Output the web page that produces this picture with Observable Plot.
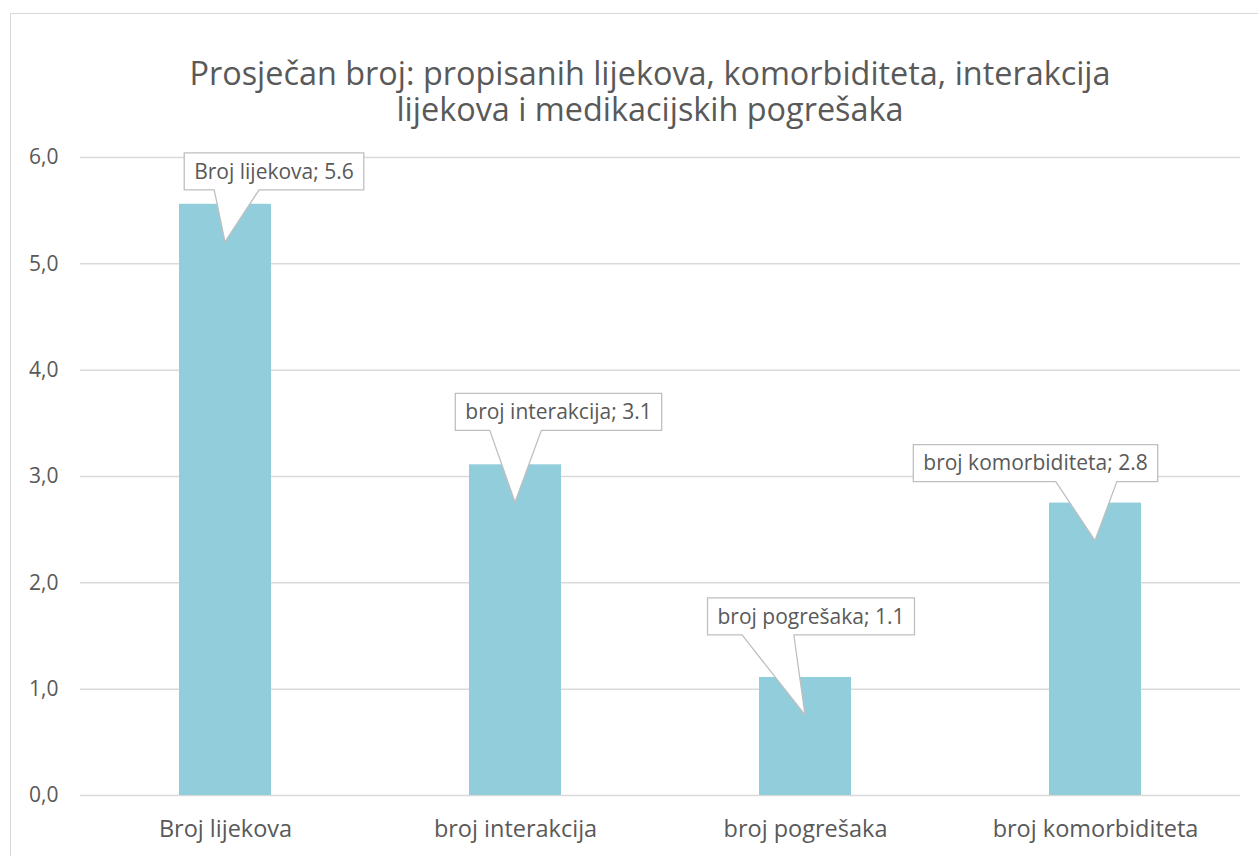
<!DOCTYPE html>
<html><head><meta charset="utf-8">
<script src="https://cdn.jsdelivr.net/npm/d3@7"></script>
<script src="https://cdn.jsdelivr.net/npm/@observablehq/plot@0.6"></script>
<style>
body{margin:0;background:#fff;}
#wrap{position:relative;width:1258px;height:856px;overflow:hidden;}
#frame{position:absolute;left:10px;top:13px;width:1320px;height:900px;border:1.5px solid #d9d9d9;box-sizing:border-box;}
.title{position:absolute;left:0;width:1300px;text-align:center;font-family:"Open Sans",sans-serif;font-size:32.4px;color:#595959;line-height:34px;height:34px;}
#chart{position:absolute;left:0;top:0;}
#chart svg [aria-label^="x-axis"] text{font-size:23.5px;}
#chart svg [aria-label^="y-axis"] text{font-size:21px;}
</style></head>
<body>
<div id="wrap">
  <div id="frame"></div>
  <div id="chart"></div>
  <div class="title" style="top:55px">Prosječan broj: propisanih lijekova, komorbiditeta, interakcija</div>
  <div class="title" style="top:91px">lijekova i medikacijskih pogrešaka</div>
</div>
<script>
// ---- data ----
const categories = ["Broj lijekova", "broj interakcija", "broj pogrešaka", "broj komorbiditeta"];
const values = [5.56, 3.11, 1.11, 2.75];
const labelValues = ["5.6", "3.1", "1.1", "2.8"];
const yTicks = [0, 1, 2, 3, 4, 5, 6];

// ---- layout of the callout boxes (pixel offsets relative to bar top) ----
const calloutLayout = [
  {dx: 49, dy: -14},
  {dx: 43.5, dy: -34},
  {dx: 6, dy: -42},
  {dx: -59.5, dy: -21}
];

const rows = categories.map((c, i) => ({cat: c, value: values[i], label: labelValues[i]}));

const textColor = "#595959";
const calloutFont = 21;

function callouts(index, scales) {
  const sx = scales.x, sy = scales.y;
  const bw = typeof sx.bandwidth === "function" ? sx.bandwidth() : (sx.bandwidth || 0);
  const g = d3.create("svg:g");
  const ctx = document.createElement("canvas").getContext("2d");
  ctx.font = calloutFont + 'px "Open Sans"';
  rows.forEach((d, i) => {
    const cx = sx(d.cat) + bw / 2;
    const top = sy(d.value);
    const L = calloutLayout[i];
    const tipX = cx, tipY = top + 38;
    const text = `${d.cat}; ${d.label}`;
    const w = ctx.measureText(text).width + 20, h = 37;
    const bx = cx + L.dx - w / 2, bb = top + L.dy, bt = bb - h;
    const right = tipX > bx + w / 2;
    const f0 = right ? 0.583 : 0.167, f1 = right ? 0.833 : 0.417;
    const p = `M${bx},${bt}H${bx + w}V${bb}H${bx + w * f1}L${tipX},${tipY}L${bx + w * f0},${bb}H${bx}Z`;
    g.append("path").attr("d", p).attr("fill", "#fff").attr("stroke", "#bfbfbf").attr("stroke-width", 1.3);
    g.append("text")
      .attr("x", bx + w / 2).attr("y", bt + h / 2)
      .attr("dy", "0.35em")
      .attr("text-anchor", "middle")
      .attr("fill", textColor)
      .attr("font-family", '"Open Sans", sans-serif')
      .attr("font-size", calloutFont)
      .text(text);
  });
  return g.node();
}

const plot = Plot.plot({
  width: 1258,
  height: 856,
  marginLeft: 80,
  marginRight: 18,
  marginTop: 157,
  marginBottom: 61,
  style: {fontFamily: '"Open Sans", sans-serif', fontSize: "20px", color: textColor, background: "transparent"},
  x: {domain: categories, paddingInner: 0.683, paddingOuter: 0.3415, label: null, tickSize: 0, tickPadding: 25},
  y: {domain: [0, 6], ticks: 6, label: null, tickSize: 0, tickPadding: 22,
      tickFormat: d => d.toFixed(1).replace(".", ",")},
  marks: [
    Plot.ruleY(yTicks, {stroke: "#d9d9d9", strokeWidth: 1.5}),
    Plot.barY(rows, {x: "cat", y: "value", fill: "#92cddc"}),
    callouts
  ]
});
document.getElementById("chart").appendChild(plot);
</script>
</body></html>
